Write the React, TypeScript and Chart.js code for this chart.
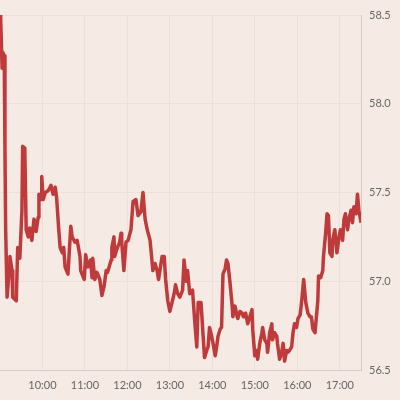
import { useEffect, useRef } from "react";
import { Chart, registerables } from "chart.js";

Chart.register(...registerables);

// minutes since midnight for each observation
const minuteOfDay = [
  540, 541, 543, 544, 546, 547, 548, 550, 553, 554, 557, 558, 563, 565, 568, 571, 572, 575, 577, 580,
  582, 585, 588, 591, 594, 595, 598, 599, 601, 604, 608, 612, 615, 618, 620, 623, 625, 628, 630, 632,
  636, 640, 642, 646, 649, 653, 654, 659, 661, 664, 668, 670, 671, 674, 677, 681, 684, 687, 690, 692,
  697, 698, 701, 702, 705, 709, 711, 712, 715, 718, 721, 725, 728, 732, 735, 739, 742, 745, 748, 752,
  756, 759, 762, 764, 769, 772, 774, 777, 780, 783, 786, 788, 791, 794, 797, 798, 800, 803, 805, 808,
  812, 815, 818, 820, 824, 827, 829, 832, 834, 836, 839, 841, 844, 846, 848, 851, 853, 855, 858, 860,
  862, 865, 868, 869, 872, 875, 876, 879, 882, 884, 887, 890, 893, 896, 897, 900, 903, 904, 907, 910,
  911, 914, 917, 918, 921, 924, 925, 928, 931, 932, 935, 938, 940, 942, 945, 947, 949, 952, 954, 956,
  959, 961, 964, 966, 969, 972, 975, 978, 980, 982, 985, 989, 990, 993, 996, 997, 1000, 1002, 1004, 1006,
  1009, 1010, 1013, 1016, 1019, 1021, 1024, 1026, 1028, 1031, 1033, 1036, 1038, 1040, 1043, 1045, 1047, 1050,
];

const price = [
  58.5, 58.47, 58.2, 58.29, 58.27, 57.74, 57.29, 56.91, 57.06, 57.14, 57.06, 56.91, 56.89, 57.19, 57.13, 57.4, 57.76, 57.75, 57.29, 57.25,
  57.3, 57.23, 57.35, 57.28, 57.36, 57.49, 57.46, 57.59, 57.46, 57.5, 57.51, 57.54, 57.49, 57.53, 57.47, 57.29, 57.19, 57.16, 57.19, 57.08,
  57.04, 57.31, 57.25, 57.22, 57.23, 57.14, 57.06, 57.01, 57.15, 57.08, 57.12, 57.02, 57.13, 57.01, 57.05, 57.01, 56.92, 56.97, 57.06, 57.05,
  57.12, 57.19, 57.25, 57.14, 57.18, 57.22, 57.27, 57.22, 57.06, 57.22, 57.23, 57.29, 57.45, 57.46, 57.37, 57.39, 57.5, 57.35, 57.29, 57.23,
  57.06, 57.1, 57.06, 57.01, 57.14, 57.14, 57.01, 56.89, 56.83, 56.88, 56.93, 56.98, 56.93, 56.91, 56.94, 56.95, 57.12, 57.0, 57.06, 56.93,
  56.95, 56.78, 56.63, 56.88, 56.88, 56.69, 56.57, 56.61, 56.63, 56.74, 56.69, 56.65, 56.58, 56.63, 56.69, 56.73, 56.74, 57.04, 57.07, 57.12,
  57.1, 56.99, 56.86, 56.8, 56.86, 56.8, 56.79, 56.83, 56.82, 56.8, 56.82, 56.76, 56.8, 56.84, 56.73, 56.58, 56.61, 56.56, 56.65, 56.71,
  56.74, 56.67, 56.65, 56.6, 56.71, 56.76, 56.67, 56.71, 56.69, 56.65, 56.56, 56.6, 56.65, 56.55, 56.61, 56.6, 56.61, 56.63, 56.71, 56.76,
  56.74, 56.79, 56.81, 56.88, 57.01, 56.88, 56.82, 56.8, 56.8, 56.73, 56.71, 56.89, 57.03, 57.02, 57.06, 57.14, 57.27, 57.38, 57.37, 57.16,
  57.14, 57.23, 57.29, 57.16, 57.25, 57.29, 57.23, 57.35, 57.38, 57.29, 57.35, 57.4, 57.33, 57.42, 57.38, 57.49, 57.4, 57.33,
];

const hourTickLabels = ["10:00", "11:00", "12:00", "13:00", "14:00", "15:00", "16:00", "17:00"];
const priceTicks = [56.5, 57.0, 57.5, 58.0, 58.5];
const sessionStart = "09:00";
const sessionEnd = "17:30";

const toMinutes = (s: string) => {
  const [h, m] = s.split(":").map(Number);
  return h * 60 + m;
};
const fmtTime = (v: number) => {
  const h = Math.floor(v / 60);
  const m = Math.round(v % 60);
  return `${h}:${m < 10 ? "0" + m : m}`;
};

export default function App() {
  const ref = useRef<HTMLCanvasElement>(null);
  useEffect(() => {
    const labelFont = { family: "Lato", size: 11 };
    const chart = new Chart(ref.current!, {
      type: "line",
      data: {
        datasets: [
          {
            data: minuteOfDay.map((m, i) => ({ x: m, y: price[i] })),
            borderColor: "#bf3a3a",
            borderWidth: 3.5,
            pointRadius: 0,
            tension: 0,
            fill: false,
            borderJoinStyle: "round",
          },
        ],
      },
      options: {
        animation: false,
        responsive: false,
        maintainAspectRatio: false,
        layout: { padding: { top: 15, left: 0, right: 0, bottom: 0 } },
        plugins: { legend: { display: false }, tooltip: { enabled: false } },
        scales: {
          x: {
            type: "linear",
            min: toMinutes(sessionStart),
            max: toMinutes(sessionEnd),
            afterBuildTicks: (axis: any) => {
              axis.ticks = hourTickLabels.map((s) => ({ value: toMinutes(s) }));
            },
            afterFit: (s: any) => {
              s.height = 30;
            },
            ticks: {
              callback: (v: any) => fmtTime(Number(v)),
              font: labelFont,
              color: "#666666",
              padding: 9,
              maxRotation: 0,
              autoSkip: false,
            },
            grid: { color: "#ede0d8", drawTicks: false },
            border: { color: "#d8cac6" },
          },
          y: {
            position: "right",
            min: priceTicks[0],
            max: priceTicks[priceTicks.length - 1],
            afterBuildTicks: (axis: any) => {
              axis.ticks = priceTicks.map((v) => ({ value: v }));
            },
            afterFit: (s: any) => {
              s.width = 39;
            },
            ticks: {
              callback: (v: any) => Number(v).toFixed(1),
              font: labelFont,
              color: "#666666",
              padding: 8,
            },
            grid: { color: "#ede0d8", drawTicks: false },
            border: { color: "#d8cac6" },
          },
        },
      },
    } as any);
    return () => chart.destroy();
  }, []);
  return (
    <div style={{ position: "fixed", left: 0, top: 0, width: 400, height: 400, background: "#f5eae4" }}>
      <canvas ref={ref} width={400} height={400} style={{ display: "block" }} />
    </div>
  );
}
